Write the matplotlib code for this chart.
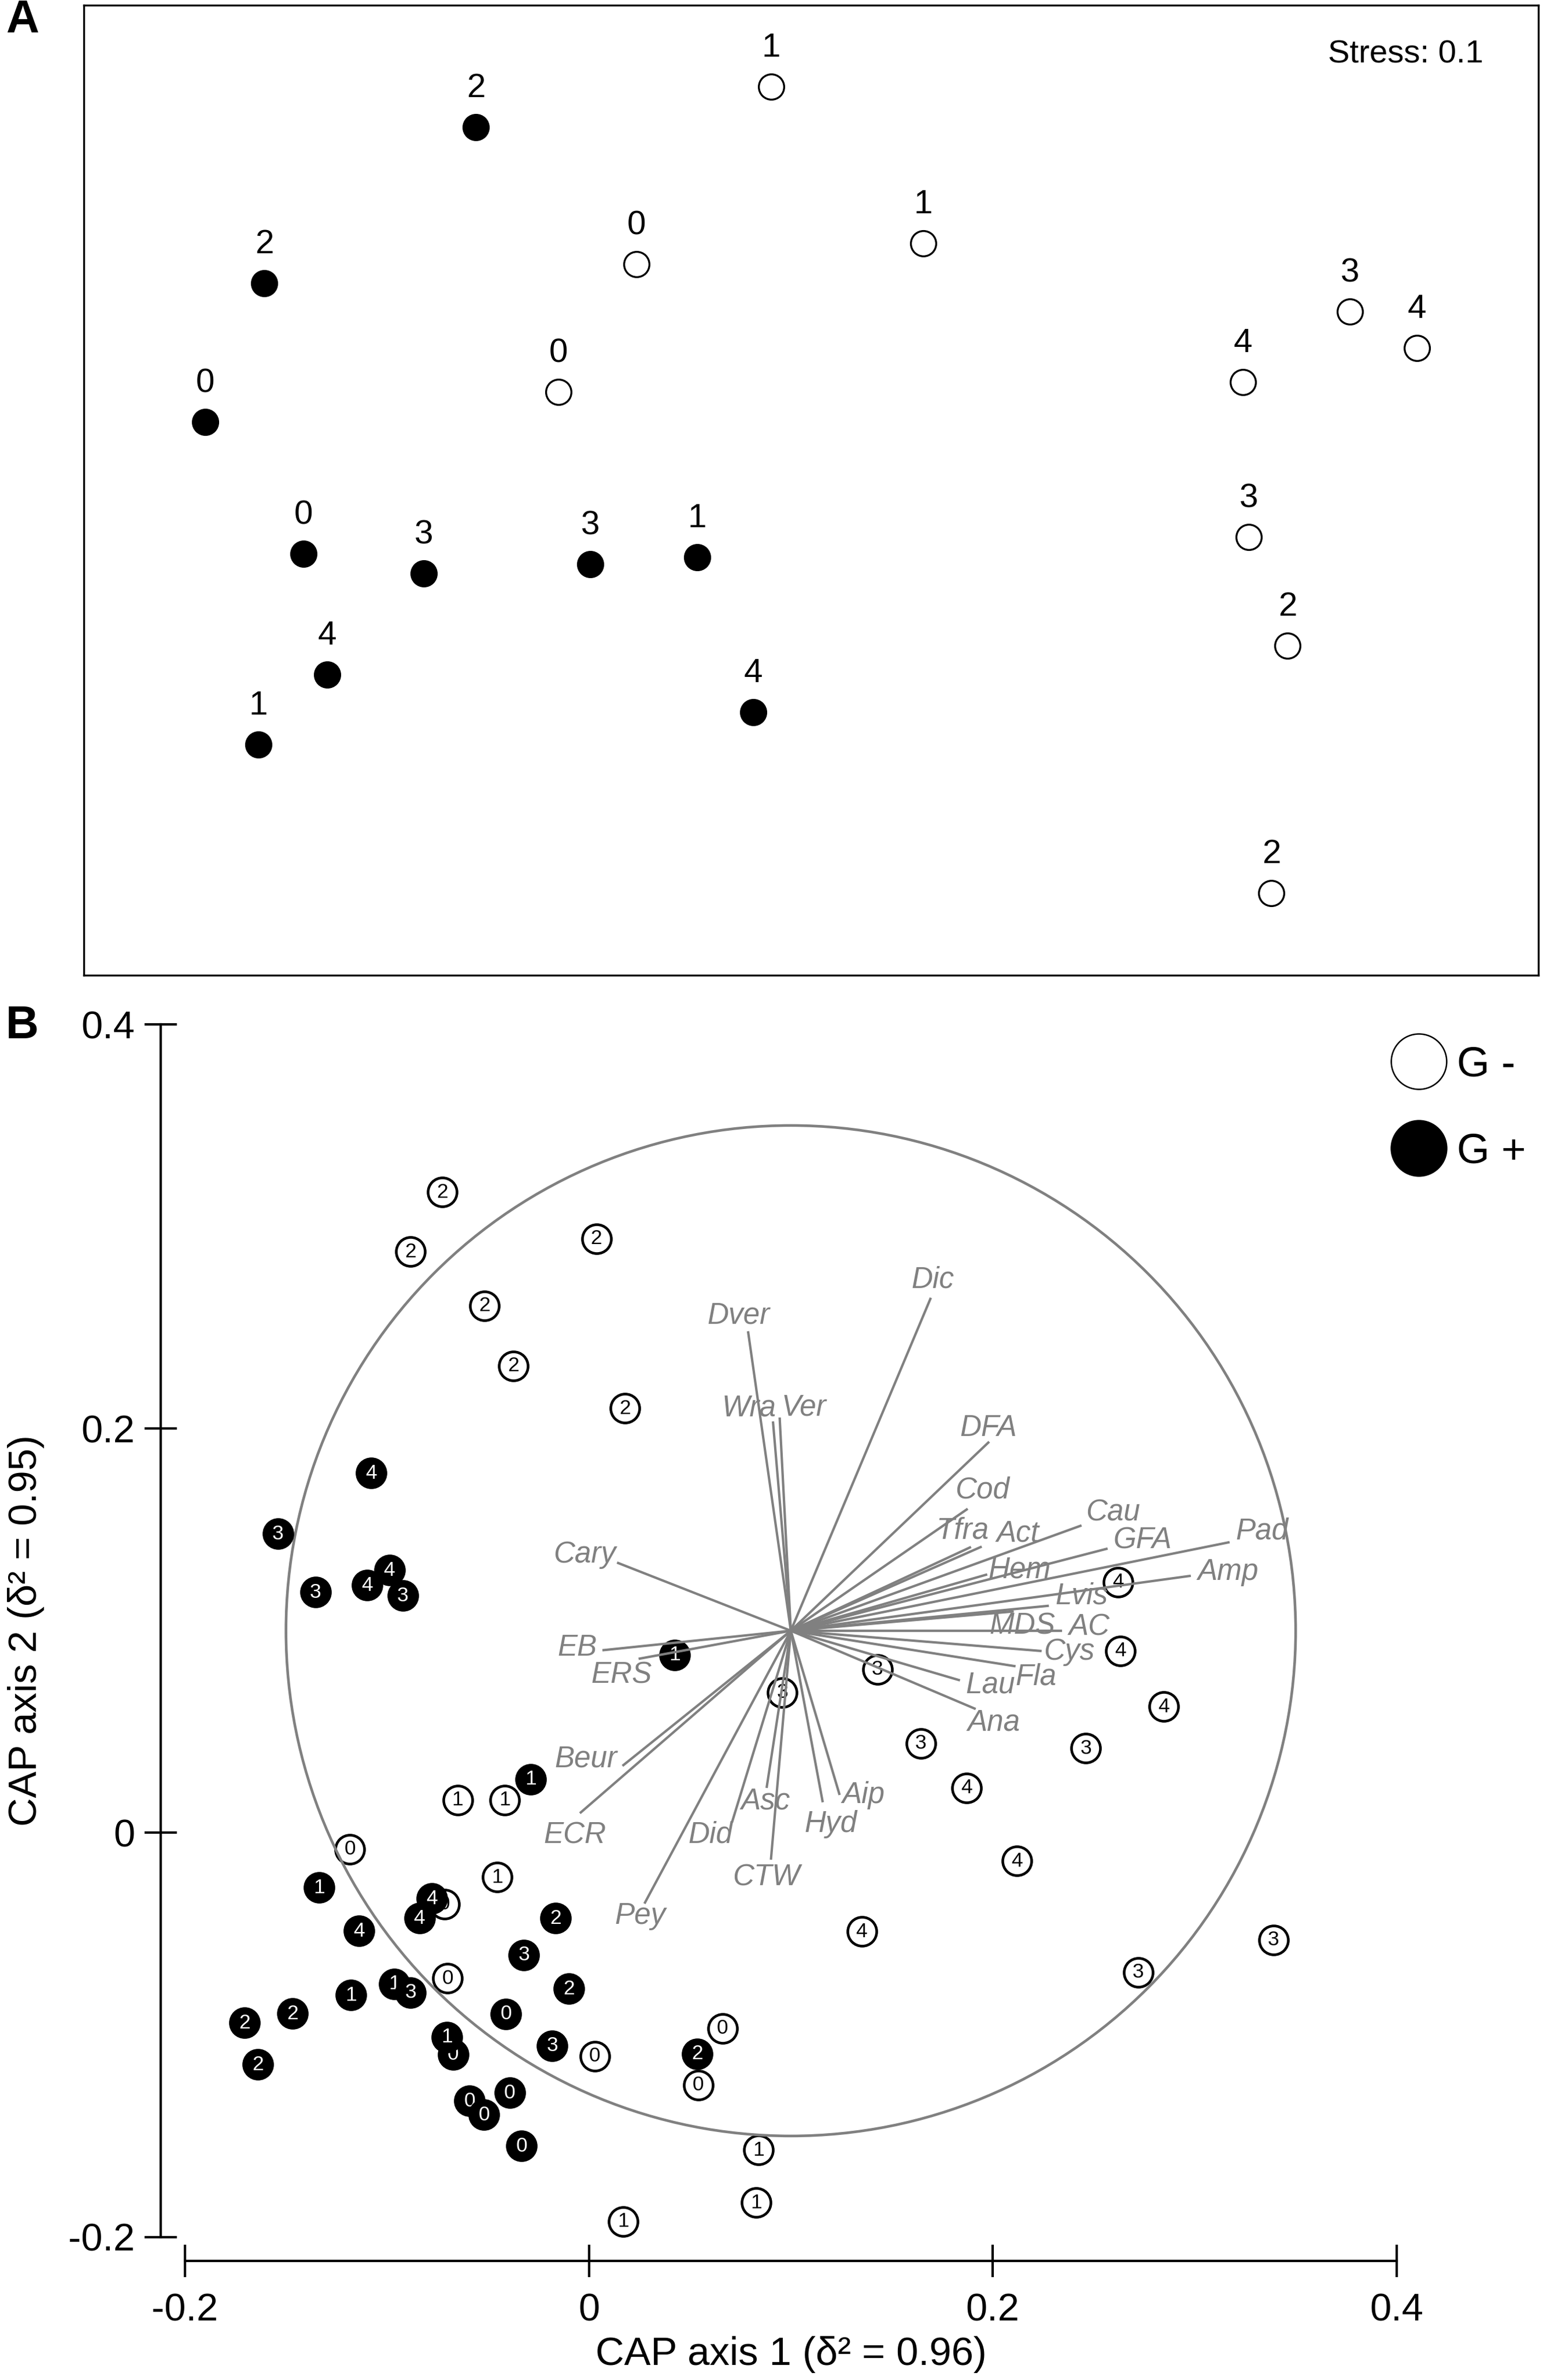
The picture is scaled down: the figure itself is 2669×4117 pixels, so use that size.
import matplotlib.pyplot as plt
from matplotlib.patches import Circle
from matplotlib.lines import Line2D
from matplotlib.ticker import FuncFormatter

plt.rcParams['font.family'] = ['Liberation Sans', 'DejaVu Sans']
plt.rcParams['axes.unicode_minus'] = False

# ---- panel A: nMDS ordination (arbitrary units) ----
nmds_x = [-0.577, -0.943, -1.045, -0.875, -0.667, -0.379, -0.194, -0.834, -0.953, -0.097,
          -0.066, -0.299, -0.434, 0.197, 0.935, 1.051, 0.750, 0.760, 0.827, 0.799]
nmds_y = [0.680, 0.410, 0.170, -0.058, -0.092, -0.076, -0.064, -0.267, -0.388, -0.332,
          0.750, 0.443, 0.222, 0.479, 0.361, 0.298, 0.239, -0.029, -0.217, -0.645]
nmds_gpos = [1, 1, 1, 1, 1, 1, 1, 1, 1, 1,
             0, 0, 0, 0, 0, 0, 0, 0, 0, 0]
nmds_lab = ['2', '2', '0', '0', '3', '3', '1', '4', '1', '4',
            '1', '0', '0', '1', '3', '4', '4', '3', '2', '2']
stress = 0.1

# ---- panel B: CAP scores ----
cap_x = [-0.0727, -0.0883, 0.0037, -0.0518, -0.0375, 0.0180, 0.2620, 0.2632, 0.1429, 0.0958,
         0.2847, 0.1643, 0.2461, 0.1870, 0.2119, 0.1351, 0.3390, 0.2720, -0.0650, -0.0416,
         -0.1183, -0.0455, -0.0716, -0.0700, 0.0029, 0.0661, 0.0541, 0.0839, 0.0829, 0.0171,
         -0.1078, -0.1540, -0.1353, -0.1097, -0.0988, -0.0921, 0.0424, -0.0289, -0.1336, -0.0778,
         -0.0839, -0.1139, -0.0164, -0.0322, -0.0964, -0.0883, -0.1178, -0.0098, -0.0410, -0.1467,
         -0.1704, -0.0673, -0.0703, -0.0182, 0.0537, -0.1638, -0.0591, -0.0519, -0.0392, -0.0333]
cap_y = [0.3170, 0.2875, 0.2940, 0.2608, 0.2310, 0.2100, 0.1240, 0.0900, 0.0809, 0.0695,
         0.0624, 0.0442, 0.0418, 0.0222, -0.0139, -0.0488, -0.0530, -0.0690, 0.0163, 0.0163,
         -0.0081, -0.0220, -0.0353, -0.0720, -0.1105, -0.0968, -0.1248, -0.1570, -0.1830, -0.1923,
         0.1780, 0.1480, 0.1190, 0.1225, 0.1300, 0.1174, 0.0880, 0.0265, -0.0271, -0.0326,
         -0.0423, -0.0485, -0.0423, -0.0605, -0.0747, -0.0790, -0.0803, -0.0772, -0.0896, -0.0894,
         -0.0941, -0.1096, -0.1010, -0.1054, -0.1093, -0.1147, -0.1326, -0.1395, -0.1287, -0.1550]
cap_gpos = [0] * 30 + [1] * 30
cap_lab = ['2', '2', '2', '2', '2', '2', '4', '4', '3', '3',
           '4', '3', '3', '4', '4', '4', '3', '3', '1', '1',
           '0', '1', '0', '0', '0', '0', '0', '1', '1', '1',
           '4', '3', '3', '4', '4', '3', '1', '1', '1', '4',
           '4', '4', '2', '3', '1', '3', '1', '2', '0', '2',
           '2', '0', '1', '3', '2', '2', '0', '0', '0', '0']

# species / variable vectors (tips), drawn from the circle centre
vec_names = ['Dic', 'Dver', 'Wra', 'Ver', 'DFA', 'Cod', 'Tfra', 'Act', 'Cau', 'GFA',
             'Pad', 'Amp', 'Hem', 'Lvis', 'MDS', 'AC', 'Cys', 'Fla', 'Lau', 'Ana',
             'Aip', 'Hyd', 'Asc', 'CTW', 'Did', 'Pey', 'ECR', 'Beur', 'EB', 'ERS', 'Cary']
vec_x = [0.1691, 0.0789, 0.0912, 0.0945, 0.1978, 0.1871, 0.1887, 0.1940, 0.2434, 0.2563,
         0.3167, 0.2975, 0.1967, 0.2272, 0.2098, 0.2336, 0.2236, 0.2107, 0.1832, 0.1910,
         0.1240, 0.1157, 0.0881, 0.0902, 0.0710, 0.0278, -0.0040, 0.0171, 0.0073, 0.0252, 0.0145]
vec_y = [0.2642, 0.2476, 0.2030, 0.2049, 0.1931, 0.1600, 0.1412, 0.1414, 0.1519, 0.1405,
         0.1437, 0.1271, 0.1277, 0.1123, 0.1095, 0.1000, 0.0900, 0.0825, 0.0756, 0.0615,
         0.0193, 0.0157, 0.0228, -0.0127, 0.0056, -0.0345, 0.0101, 0.0335, 0.0904, 0.0862, 0.1335]
circle_centre = (0.1, 0.1)
circle_radius = 0.25

# label offsets from vector tips (points)
lab_off = {'Dic': (1, 8), 'Dver': (-4, 7), 'Wra': (-10, 6), 'Ver': (10, 4.5), 'DFA': (0, 6),
           'Cod': (6.5, 8), 'Tfra': (-3, 7), 'Act': (15.5, 5.5), 'Cau': (13.5, 5.5),
           'GFA': (15, 3.5), 'Pad': (14, 4.5), 'Amp': (16, 1.5), 'Hem': (14, 2),
           'Lvis': (14, 4), 'MDS': (4, -6), 'AC': (12, 1.5), 'Cys': (12, -0.5),
           'Fla': (9, -4.5), 'Lau': (13, -2), 'Ana': (8, -6), 'Aip': (10, -0.5),
           'Hyd': (3.5, -9.5), 'Asc': (-0.5, -6), 'CTW': (-2, -8), 'Did': (-9, -5.5),
           'Pey': (-2, -5.5), 'ECR': (-2.5, -9.5), 'Beur': (-15.5, 2.5), 'EB': (-11, 1),
           'ERS': (-7.5, -7), 'Cary': (-14, 3.5)}

grey = '#808080'

fig = plt.figure(figsize=(2669 / 300, 4117 / 300), dpi=300)

# ================= panel A =================
ax_a = fig.add_axes([0.05418, 0.59024, 0.94282, 0.40765])
ax_a.set_xlim(-1.2554, 1.261)
ax_a.set_ylim(-0.787, 0.8913)
ax_a.set_xticks([])
ax_a.set_yticks([])
for sp in ax_a.spines.values():
    sp.set_linewidth(0.8)

for x, y, g, lab in zip(nmds_x, nmds_y, nmds_gpos, nmds_lab):
    ax_a.plot(x, y, 'o', ms=10.5, mfc='black' if g else 'white', mec='black', mew=0.8)
    ax_a.annotate(lab, (x, y), xytext=(0, 16), textcoords='offset points',
                  ha='center', va='center', fontsize=14)
ax_a.text(0.9623, 0.9486, 'Stress: %s' % stress, transform=ax_a.transAxes,
          ha='right', va='center', fontsize=13.5)

fig.text(39 / 2669, 1 - 35 / 4117, 'A', fontsize=19, fontweight='bold', ha='center', va='center')
fig.text(38 / 2669, 1 - 1776 / 4117, 'B', fontsize=19, fontweight='bold', ha='center', va='center')

# ================= panel B =================
ax_b = fig.add_axes([0.11990, 0.06007, 0.78524, 0.50950])
ax_b.set_xlim(-0.2, 0.4)
ax_b.set_ylim(-0.2, 0.4)

ax_b.add_patch(Circle(circle_centre, circle_radius, fill=False, ec=grey, lw=1.1, zorder=2.5))

for i, (x, y, g, lab) in enumerate(zip(cap_x, cap_y, cap_gpos, cap_lab)):
    z = (3 if g else 2) + i * 0.001
    ax_b.plot(x, y, 'o', ms=12, mfc='black' if g else 'white', mec='black', mew=1.1,
              zorder=z, clip_on=False)
    ax_b.text(x, y, lab, ha='center', va='center', fontsize=8.5,
              color='white' if g else 'black', zorder=z + 0.0005)

x0, y0 = circle_centre
for name, vx, vy in zip(vec_names, vec_x, vec_y):
    ax_b.plot([x0, vx], [y0, vy], color=grey, lw=1.0, zorder=6)
    ax_b.annotate(name, (vx, vy), xytext=lab_off[name], textcoords='offset points',
                  ha='center', va='center', fontsize=12.3, style='italic', color=grey,
                  zorder=7)

fmt = FuncFormatter(lambda v, _: '0' if abs(v) < 1e-9 else '%g' % v)
ticks = [-0.2, 0, 0.2, 0.4]
ax_b.set_xticks(ticks)
ax_b.set_yticks(ticks)
ax_b.xaxis.set_major_formatter(fmt)
ax_b.yaxis.set_major_formatter(fmt)
ax_b.tick_params(direction='inout', length=13.5, width=1.0, labelsize=16)
ax_b.tick_params(axis='x', pad=6.5)
ax_b.tick_params(axis='y', pad=4)
for side in ['top', 'right']:
    ax_b.spines[side].set_visible(False)
for side in ['left', 'bottom']:
    ax_b.spines[side].set_position(('outward', 10))
    ax_b.spines[side].set_bounds(-0.2, 0.4)
    ax_b.spines[side].set_linewidth(1.0)

ax_b.set_xlabel('CAP axis 1 (δ² = 0.96)', fontsize=16.5, labelpad=3)
ax_b.set_ylabel('CAP axis 2 (δ² = 0.95)', fontsize=16.5, labelpad=10)

handles = [Line2D([], [], ls='none', marker='o', ms=23, mfc='white', mec='black', mew=0.6),
           Line2D([], [], ls='none', marker='o', ms=23, mfc='black', mec='black', mew=0.6)]
fig.legend(handles, ['G -', 'G +'], loc='center', frameon=False, fontsize=17.5,
           bbox_to_anchor=(2525 / 2669, 1 - 1918 / 4117), bbox_transform=fig.transFigure,
           handlelength=1.2, handletextpad=0.3, labelspacing=1.15, borderpad=0)

fig.savefig('out.png', dpi=300)
